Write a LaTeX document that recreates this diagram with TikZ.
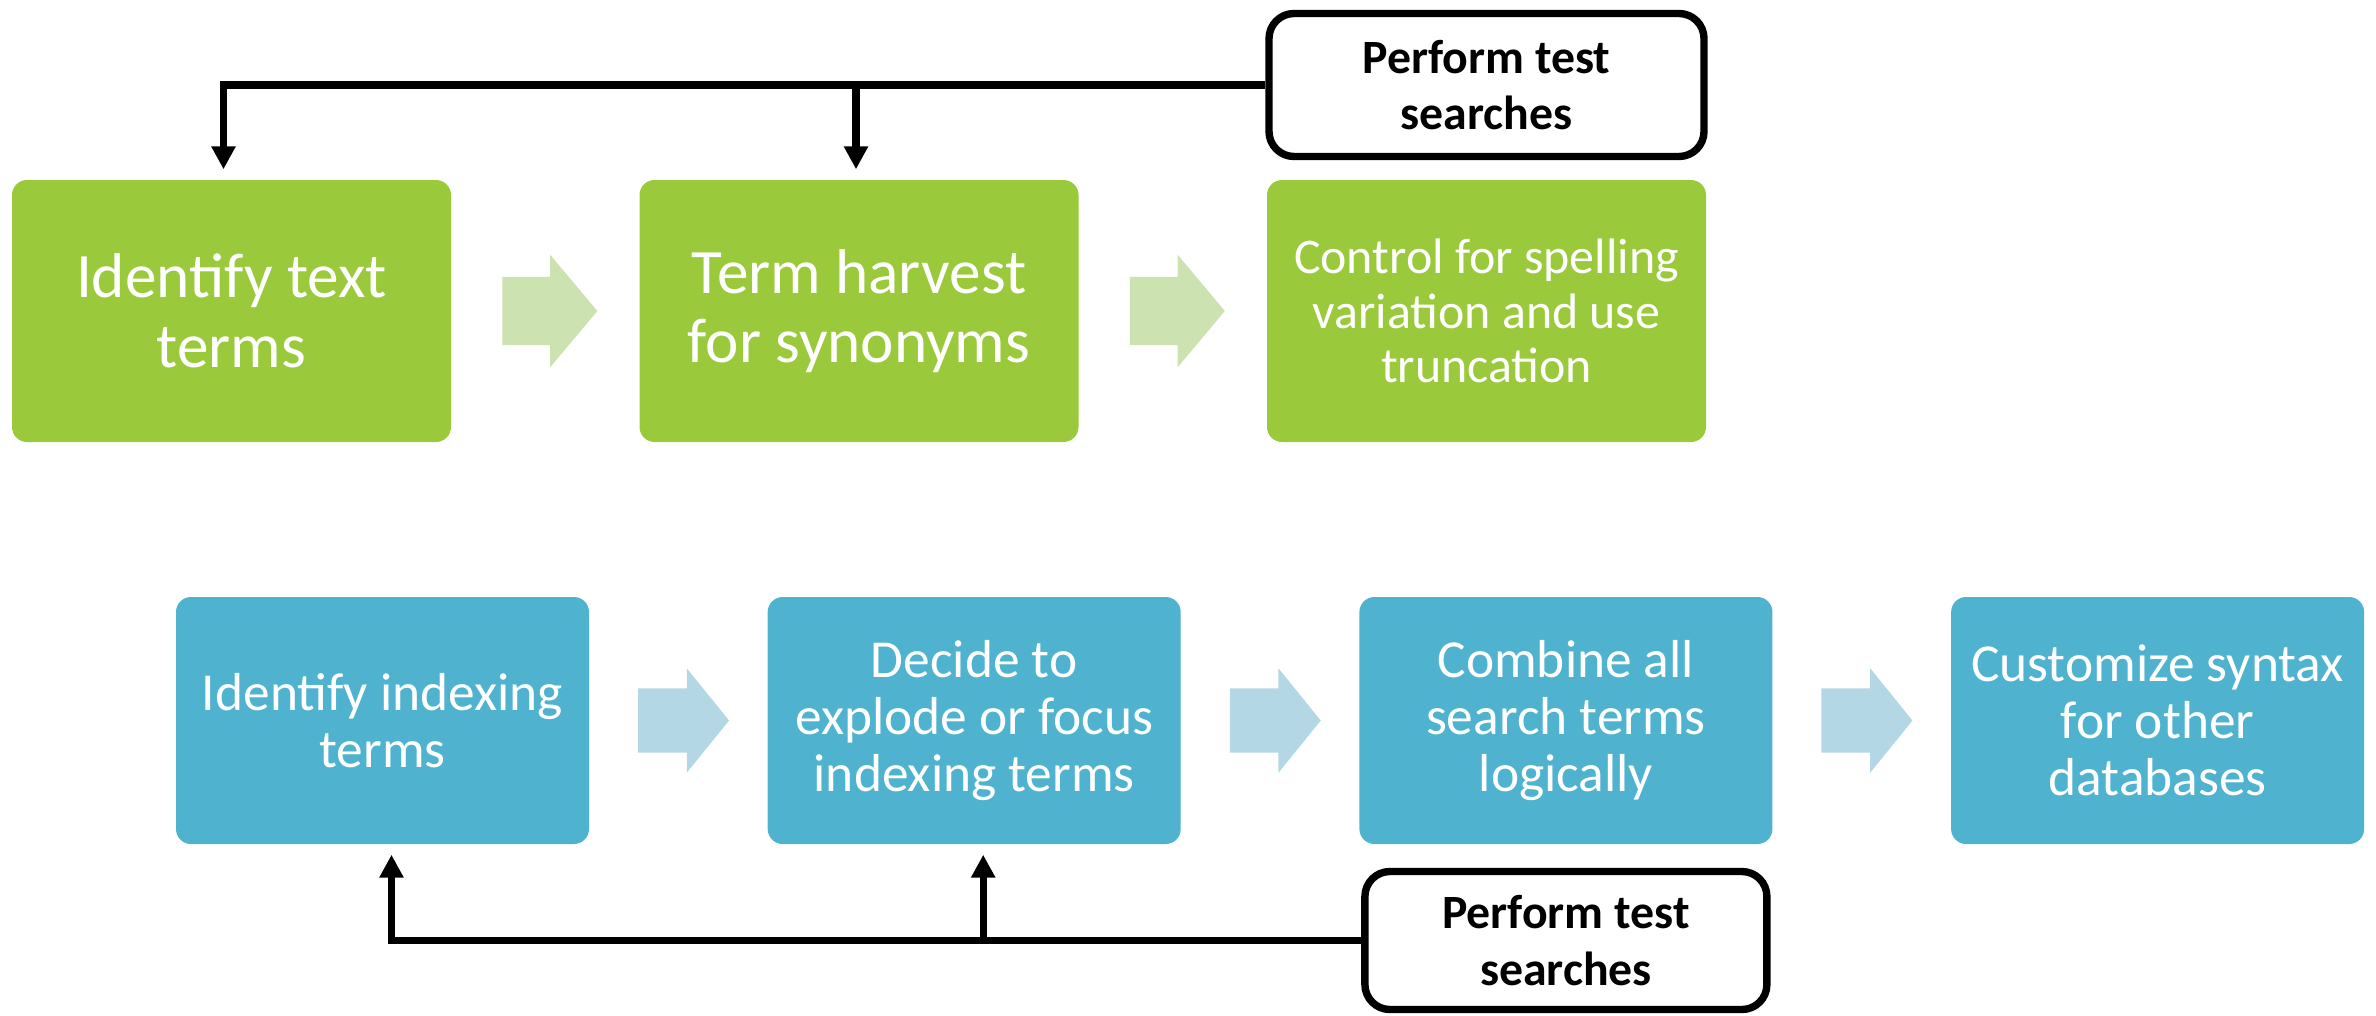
\documentclass[tikz,border=0pt]{standalone}
\usepackage{fontspec}
\setmainfont{Carlito}
\usepackage{tikz}
\usetikzlibrary{arrows.meta,shapes.arrows}
\definecolor{boxgreen}{HTML}{9ACA3C}
\definecolor{arrowgreen}{HTML}{CDE2B1}
\definecolor{boxblue}{HTML}{4FB3CF}
\definecolor{arrowblue}{HTML}{B3D7E4}

\begin{document}
\begin{tikzpicture}[>={Triangle[length=0.23cm,width=0.23cm]},shorten >=0.1cm,node distance=6.275cm,
  gbox/.style={rectangle,rounded corners=0.15cm,fill=boxgreen,text=white,align=center,
    minimum width=4.39cm,minimum height=2.62cm,font=\fontsize{18}{19.8}\selectfont},
  bbox/.style={rectangle,rounded corners=0.15cm,fill=boxblue,text=white,align=center,
    minimum width=4.13cm,minimum height=2.47cm,font=\fontsize{15.2}{16.3}\selectfont},
  testbox/.style={rectangle,draw,line width=2.1pt,rounded corners=0.25cm,fill=white,align=center,
    font=\bfseries\fontsize{13.6}{16}\selectfont},
  garrow/.style={single arrow,fill=arrowgreen,inner xsep=0pt,inner ysep=0.335cm,text height=0pt,text depth=0pt,
    minimum height=0.95cm,minimum width=0pt,single arrow head extend=0.22cm,single arrow tip angle=100},
  barrow/.style={single arrow,fill=arrowblue,inner xsep=0pt,inner ysep=0.315cm,text height=0pt,text depth=0pt,
    minimum height=0.91cm,minimum width=0pt,single arrow head extend=0.20cm,single arrow tip angle=102},
  feed/.style={line width=2.1pt}]
  \useasboundingbox (0,0) rectangle (23.76,10.15);

  % text terms
  \node[gbox] (t1) at (2.315,7.04) {Identify text\\terms};
  \node[gbox] (t2) [right of=t1] {Term harvest\\for synonyms};
  \node[gbox,font=\fontsize{14.2}{15.6}\selectfont] (t3) [right of=t2] {Control for spelling\\variation and use\\truncation};
  \node[garrow] (g1) [right of=t1,node distance=3.04cm] {};
  \node[garrow] (g2) [right of=t2,node distance=3.04cm] {};
  \node[testbox,minimum width=4.35cm,minimum height=1.43cm] (p1) [above of=t3,node distance=2.26cm] {Perform test\\searches};

  \coordinate (j1) at ([xshift=-0.03cm]t2.north |- p1.west);
  \draw[feed,->] (p1.west) -| ([xshift=-0.08cm]t1.north);
  \draw[feed,->] (j1) -- ([xshift=-0.03cm]t2.north);

  % indexing terms
  \node[bbox] (b1) at (3.825,2.945) {Identify indexing\\terms};
  \node[bbox] (b2) [right of=b1,node distance=5.917cm] {Decide to\\explode or focus\\indexing terms};
  \node[bbox] (b3) [right of=b2,node distance=5.917cm] {Combine all\\search terms\\logically};
  \node[bbox] (b4) [right of=b3,node distance=5.917cm] {Customize syntax\\for other\\databases};
  \node[barrow] (a1) [right of=b1,node distance=2.88cm] {};
  \node[barrow] (a2) [right of=b2,node distance=2.88cm] {};
  \node[barrow] (a3) [right of=b3,node distance=2.88cm] {};
  \node[testbox,minimum width=4.02cm,minimum height=1.38cm] (p2) [below of=b3,node distance=2.2cm] {Perform test\\searches};

  \coordinate (j2) at ([xshift=0.09cm]b2.south |- p2.west);
  \draw[feed,->] (p2.west) -| ([xshift=0.09cm]b1.south);
  \draw[feed,->] (j2) -- ([xshift=0.09cm]b2.south);
\end{tikzpicture}
\end{document}
